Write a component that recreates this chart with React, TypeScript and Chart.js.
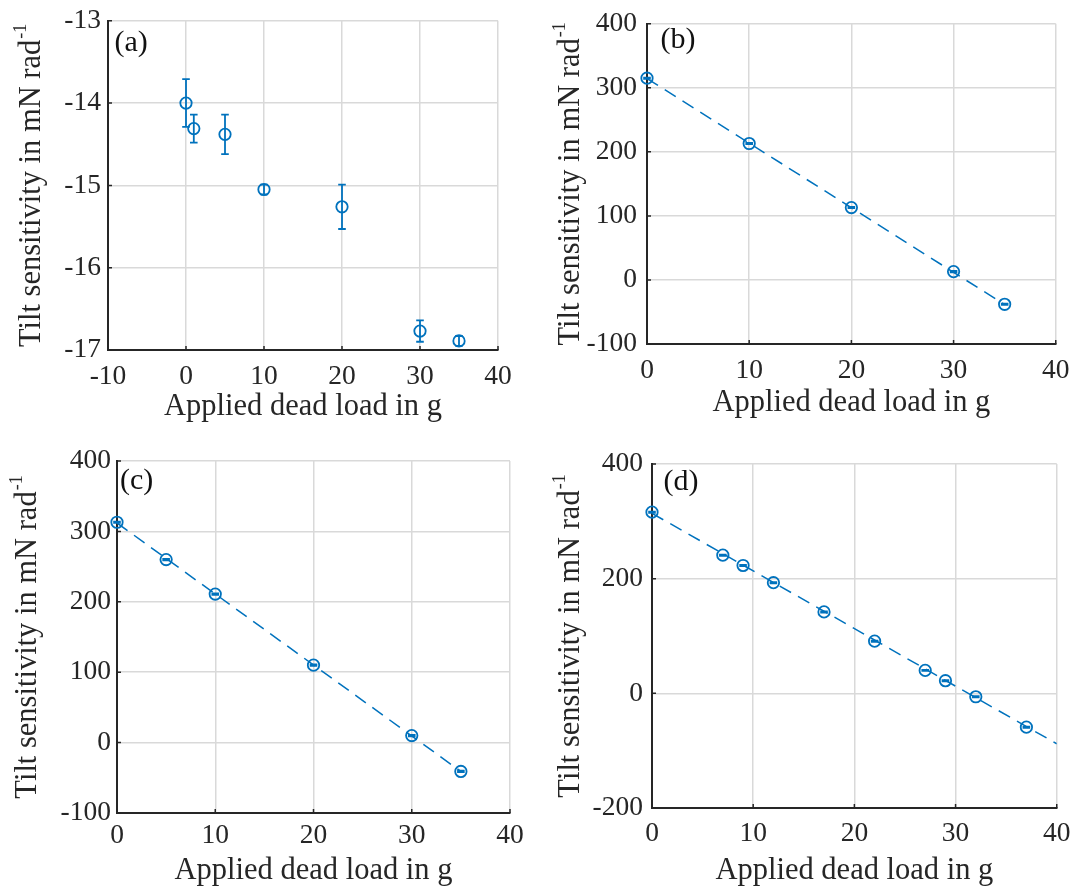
import React, { useEffect, useRef } from "react";
import { Chart, registerables } from "chart.js";

Chart.register(...registerables);

const BLUE = "#0072BD";
const INK = "#262626";
const GRID = "#d9d9d9";
const FONT = "'Liberation Serif', 'Times New Roman', serif";

// ---------- data ----------
// (a)
const loadA = [0, 1, 5, 10, 20, 30, 35];
const sensA = [-14.0, -14.31, -14.38, -15.05, -15.26, -16.77, -16.89];
const errA = [0.29, 0.17, 0.24, 0.06, 0.27, 0.13, 0.06];
const xRangeA = [-10, 40, 10];
const yRangeA = [-17, -13, 1];

// (b)
const loadB = [0, 10, 20, 30, 35];
const sensB = [315, 213, 113, 13, -38];
const errB = [1, 1, 1, 1, 1];
const fitLoadB = [0, 35];
const fitSensB = [314.5, -38.5];
const xRangeB = [0, 40, 10];
const yRangeB = [-100, 400, 100];

// (c)
const loadC = [0, 5, 10, 20, 30, 35];
const sensC = [313, 260, 211, 110, 10, -41];
const errC = [1, 1, 1, 1, 1, 1];
const fitLoadC = [0, 35];
const fitSensC = [312, -41];
const xRangeC = [0, 40, 10];
const yRangeC = [-100, 400, 100];

// (d)
const loadD = [0, 7, 9, 12, 17, 22, 27, 29, 32, 37];
const sensD = [316, 241, 223, 193, 142, 91, 40, 22, -6, -59];
const errD = [1, 1, 1, 1, 1, 1, 1, 1, 1, 1];
const fitLoadD = [0, 40];
const fitSensD = [314, -88];
const xRangeD = [0, 40, 10];
const yRangeD = [-200, 400, 200];

const panelLabels = ["(a)", "(b)", "(c)", "(d)"];
const xTitle = "Applied dead load in g";
const yTitleMain = "Tilt sensitivity in mN rad";
const yTitleSup = "-1";

// ---------- layout (page coords) ----------
type Spec = {
  label: string;
  box: { left: number; top: number; width: number; height: number };
  plot: { left: number; top: number; right: number; bottom: number };
  xRange: number[];
  yRange: number[];
  xs: number[];
  ys: number[];
  errs: number[];
  fitX?: number[];
  fitY?: number[];
  xTickPad: number;
  xAxisH: number;
  yTickPad: number;
  yTitleX: number;
  labelX: number;
  labelY: number;
};

const specs: Spec[] = [
  {
    label: panelLabels[0],
    box: { left: 0, top: 0, width: 541, height: 440 },
    plot: { left: 108, top: 18, right: 498, bottom: 350 },
    xRange: xRangeA, yRange: yRangeA, xs: loadA, ys: sensA, errs: errA,
    xTickPad: 13.5, xAxisH: 72, yTickPad: 7, yTitleX: 40,
    labelX: 114.5, labelY: 51,
  },
  {
    label: panelLabels[1],
    box: { left: 541, top: 0, width: 542, height: 440 },
    plot: { left: 647, top: 19, right: 1063, bottom: 344 },
    xRange: xRangeB, yRange: yRangeB, xs: loadB, ys: sensB, errs: errB,
    fitX: fitLoadB, fitY: fitSensB,
    xTickPad: 13.5, xAxisH: 74.5, yTickPad: 10, yTitleX: 579,
    labelX: 660.5, labelY: 48,
  },
  {
    label: panelLabels[2],
    box: { left: 0, top: 440, width: 541, height: 456 },
    plot: { left: 117, top: 461, right: 510, bottom: 813 },
    xRange: xRangeC, yRange: yRangeC, xs: loadC, ys: sensC, errs: errC,
    fitX: fitLoadC, fitY: fitSensC,
    xTickPad: 9.5, xAxisH: 73.5, yTickPad: 6, yTitleX: 36,
    labelX: 120, labelY: 489,
  },
  {
    label: panelLabels[3],
    box: { left: 541, top: 440, width: 542, height: 456 },
    plot: { left: 652, top: 464, right: 1063, bottom: 808 },
    xRange: xRangeD, yRange: yRangeD, xs: loadD, ys: sensD, errs: errD,
    fitX: fitLoadD, fitY: fitSensD,
    xTickPad: 12.5, xAxisH: 78.5, yTickPad: 9, yTitleX: 579,
    labelX: 663.5, labelY: 490,
  },
];

// ---------- plugin ----------
const decorPlugin = {
  id: "decor",
  afterDatasetsDraw(chart: any, _args: any, opts: any) {
    const ctx = chart.ctx;
    const xs = chart.scales.x;
    const ys = chart.scales.y;
    const { xsData, ysData, errs } = opts;
    ctx.save();
    ctx.strokeStyle = BLUE;
    ctx.lineWidth = 1.8;
    for (let i = 0; i < xsData.length; i++) {
      const px = xs.getPixelForValue(xsData[i]);
      const y1 = ys.getPixelForValue(ysData[i] - errs[i]);
      const y2 = ys.getPixelForValue(ysData[i] + errs[i]);
      ctx.beginPath();
      ctx.moveTo(px, y1);
      ctx.lineTo(px, y2);
      ctx.moveTo(px - 3.8, y1);
      ctx.lineTo(px + 3.8, y1);
      ctx.moveTo(px - 3.8, y2);
      ctx.lineTo(px + 3.8, y2);
      ctx.stroke();
    }
    ctx.restore();
  },
  afterDraw(chart: any, _args: any, opts: any) {
    const ctx = chart.ctx;
    const area = chart.chartArea;
    const xs = chart.scales.x;
    const ys = chart.scales.y;
    ctx.save();
    // inward ticks
    ctx.strokeStyle = INK;
    ctx.lineWidth = 1.5;
    ctx.beginPath();
    xs.ticks.forEach((t: any) => {
      const px = xs.getPixelForValue(t.value);
      ctx.moveTo(px, area.bottom);
      ctx.lineTo(px, area.bottom - 4);
    });
    ys.ticks.forEach((t: any) => {
      const py = ys.getPixelForValue(t.value);
      ctx.moveTo(area.left, py);
      ctx.lineTo(area.left + 4, py);
    });
    ctx.stroke();

    // y title with superscript
    const mainFont = `30.5px ${FONT}`;
    const supFont = `18px ${FONT}`;
    ctx.font = mainFont;
    const wMain = ctx.measureText(yTitleMain).width;
    ctx.font = supFont;
    const wSup = ctx.measureText(yTitleSup).width;
    const total = wMain + wSup + 1;
    const cy = (area.top + area.bottom) / 2;
    ctx.translate(opts.yTitleX, cy);
    ctx.rotate(-Math.PI / 2);
    ctx.fillStyle = INK;
    ctx.textBaseline = "alphabetic";
    ctx.textAlign = "left";
    ctx.font = mainFont;
    ctx.fillText(yTitleMain, -total / 2, 0);
    ctx.font = supFont;
    ctx.fillText(yTitleSup, -total / 2 + wMain + 1, -14);
    ctx.setTransform(1, 0, 0, 1, 0, 0);

    // panel label
    ctx.fillStyle = "#111";
    ctx.font = `30px ${FONT}`;
    ctx.textAlign = "left";
    ctx.textBaseline = "alphabetic";
    ctx.fillText(opts.label, opts.labelX, opts.labelY);
    ctx.restore();
  },
};

function Panel({ spec }: { spec: Spec }) {
  const ref = useRef<HTMLCanvasElement | null>(null);
  useEffect(() => {
    if (!ref.current) return;
    const { box, plot } = spec;
    const datasets: any[] = [];
    if (spec.fitX && spec.fitY) {
      datasets.push({
        data: spec.fitX.map((x, i) => ({ x, y: spec.fitY![i] })),
        showLine: true,
        borderColor: BLUE,
        borderWidth: 1.5,
        borderDash: [13, 8],
        pointRadius: 0,
        fill: false,
      });
    }
    datasets.push({
      data: spec.xs.map((x, i) => ({ x, y: spec.ys[i] })),
      showLine: false,
      pointStyle: "circle",
      pointRadius: 5.7,
      pointBorderWidth: 1.8,
      pointBorderColor: BLUE,
      pointBackgroundColor: "rgba(0,0,0,0)",
      clip: false,
    });
    const tickFont = { family: FONT, size: 27.5, lineHeight: 1 };
    const chart = new Chart(ref.current, {
      type: "scatter",
      data: { datasets },
      plugins: [decorPlugin],
      options: {
        animation: false,
        responsive: false,
        events: [],
        layout: {
          autoPadding: false,
          padding: {
            left: 0,
            top: plot.top - box.top,
            right: box.left + box.width - plot.right,
            bottom: box.top + box.height - plot.bottom - spec.xAxisH,
          },
        },
        plugins: {
          legend: { display: false },
          tooltip: { enabled: false },
          decor: {
            xsData: spec.xs,
            ysData: spec.ys,
            errs: spec.errs,
            yTitleX: spec.yTitleX - box.left,
            label: spec.label,
            labelX: spec.labelX - box.left,
            labelY: spec.labelY - box.top,
          },
        } as any,
        scales: {
          x: {
            type: "linear",
            min: spec.xRange[0],
            max: spec.xRange[1],
            afterFit: (s: any) => {
              s.height = spec.xAxisH;
            },
            ticks: {
              stepSize: spec.xRange[2],
              autoSkip: false,
              maxRotation: 0,
              padding: spec.xTickPad,
              color: INK,
              font: tickFont,
            },
            grid: { color: GRID, lineWidth: 1.5, drawTicks: false },
            border: { display: true, color: INK, width: 2 },
            title: {
              display: true,
              text: xTitle,
              color: INK,
              font: { family: FONT, size: 30.5, lineHeight: 1 },
              padding: 0,
            },
          },
          y: {
            type: "linear",
            min: spec.yRange[0],
            max: spec.yRange[1],
            afterFit: (s: any) => {
              s.width = plot.left - box.left;
            },
            ticks: {
              stepSize: spec.yRange[2],
              autoSkip: false,
              padding: spec.yTickPad,
              color: INK,
              font: tickFont,
            },
            grid: { color: GRID, lineWidth: 1.5, drawTicks: false },
            border: { display: true, color: INK, width: 2 },
          },
        },
      } as any,
    });
    return () => chart.destroy();
  }, [spec]);
  return (
    <canvas
      ref={ref}
      width={spec.box.width}
      height={spec.box.height}
      style={{
        position: "absolute",
        left: spec.box.left,
        top: spec.box.top,
        width: spec.box.width,
        height: spec.box.height,
        display: "block",
      }}
    />
  );
}

export default function App() {
  return (
    <div
      style={{
        position: "absolute",
        left: 0,
        top: 0,
        width: 1083,
        height: 896,
        background: "#ffffff",
        overflow: "hidden",
      }}
    >
      {specs.map((s) => (
        <Panel key={s.label} spec={s} />
      ))}
    </div>
  );
}
